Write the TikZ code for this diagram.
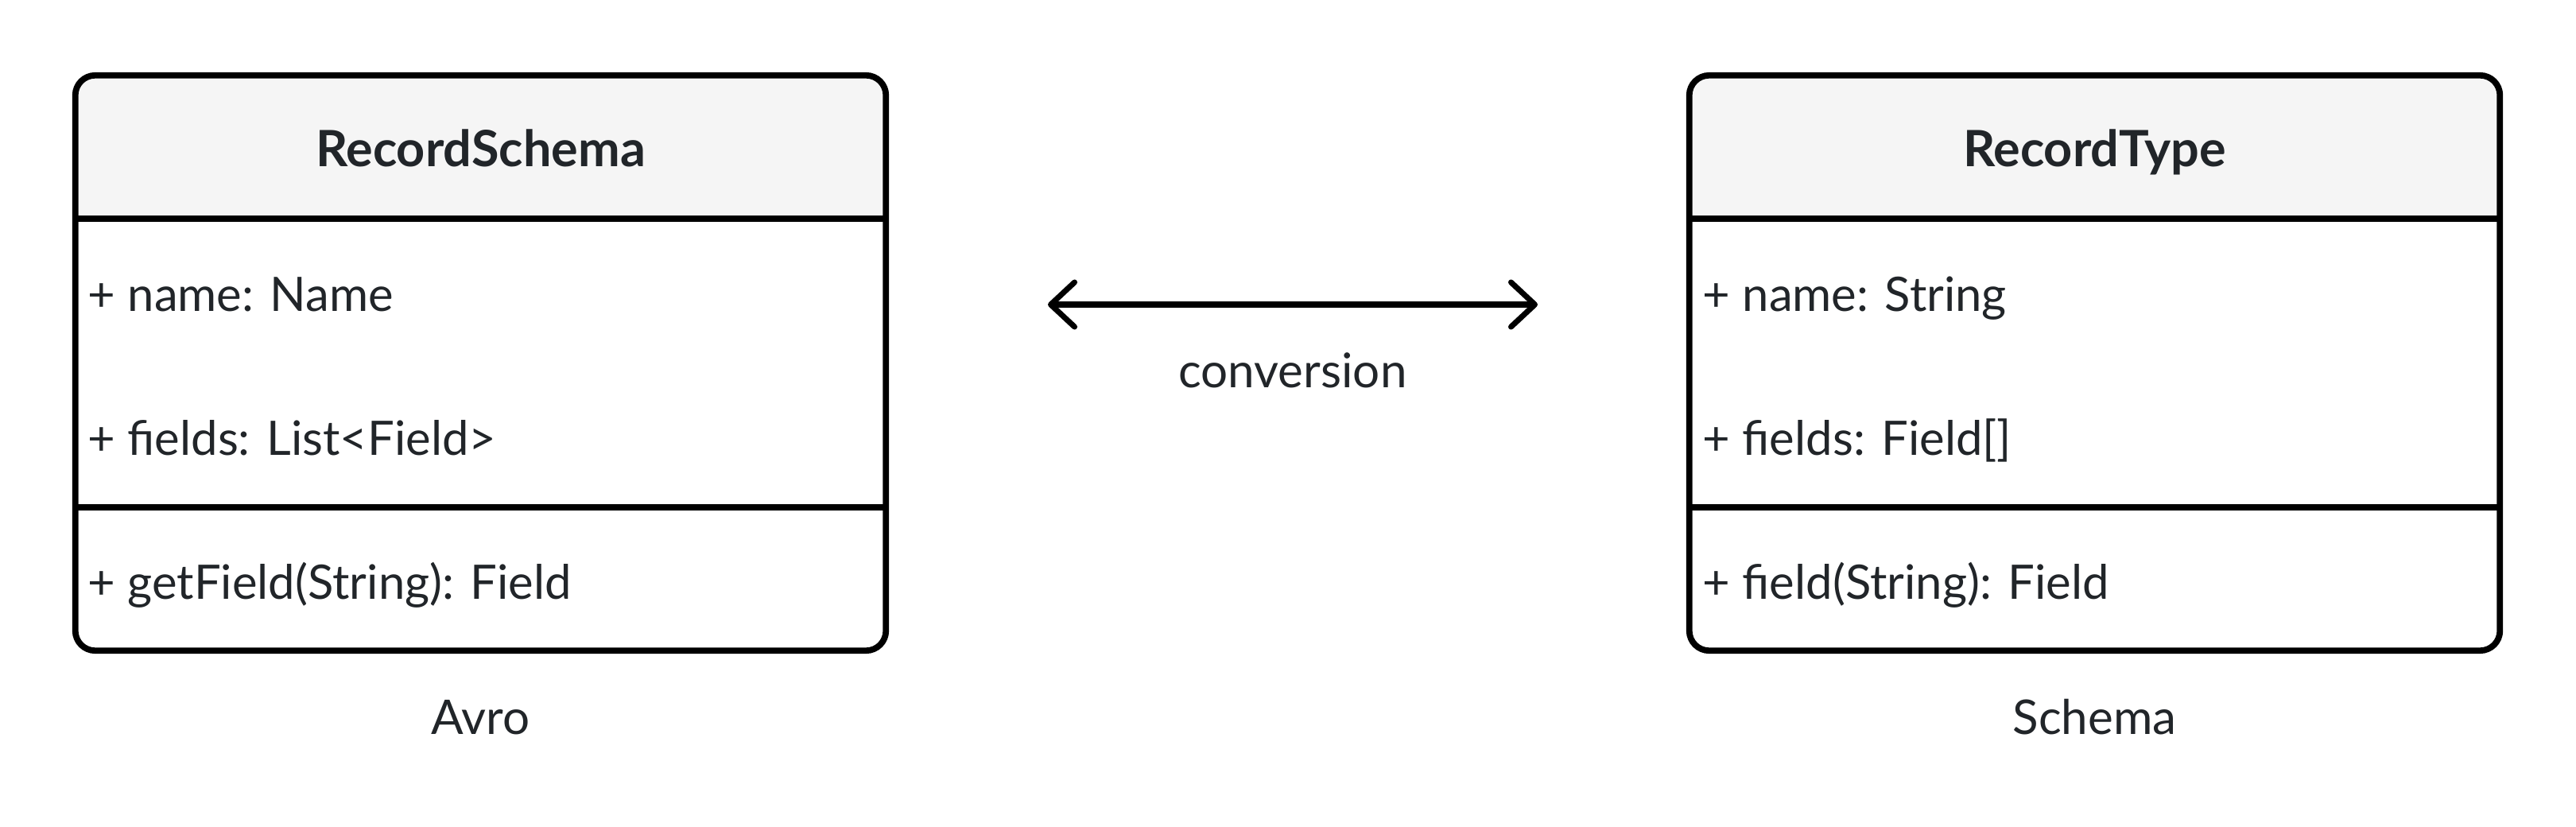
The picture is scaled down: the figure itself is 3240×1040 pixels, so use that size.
\documentclass[tikz,border=0pt]{standalone}
\usepackage{fontspec}
\setmainfont{Lato}
\usetikzlibrary{positioning,arrows.meta}
\definecolor{inkgray}{HTML}{212529}
\definecolor{headgray}{HTML}{F5F5F5}

\begin{document}
\begin{tikzpicture}[x=0.01cm, y=-0.01cm,
    classbox/.style ={rectangle, draw=black, line width=2.2pt, rounded corners=0.25cm, inner sep=0pt, minimum width=10.19cm, minimum height=7.23cm},
    divider/.style ={draw=black, line width=2.2pt},
    title/.style ={anchor=base, inner sep=0pt, text=inkgray, font=\bfseries\fontsize{17.9}{21}\selectfont},
    member/.style ={anchor=base west, inner sep=0pt, text=inkgray, font=\fontsize{17}{21}\selectfont},
    caption/.style ={anchor=base, inner sep=0pt, text=inkgray, font=\fontsize{17.1}{21}\selectfont},
    convarrow/.style ={line width=2pt, {Straight Barb[length=0.3cm, width=0.56cm, round]}-{Straight Barb[length=0.3cm, width=0.56cm, round]}}]
   \useasboundingbox (0,0) rectangle (3240,1040);

   % header fills
   \begin{scope}
     \clip (95,95) rectangle (1114,275);
     \fill[headgray, rounded corners=0.25cm] (95,95) rectangle (1114,818);
   \end{scope}
   \begin{scope}
     \clip (2126,95) rectangle (3143,275);
     \fill[headgray, rounded corners=0.25cm] (2126,95) rectangle (3143,818);
   \end{scope}

   % class boxes
   \node[classbox] (schema) at (604.5,456.5) {};
   \node[classbox] (type) at (2634.5,456.5) {};

   \draw[divider] (95,275) -- (1114,275);
   \draw[divider] (95,638) -- (1114,638);
   \draw[divider] (2126,275) -- (3143,275);
   \draw[divider] (2126,638) -- (3143,638);

   % RecordSchema
   \node[title] (schematitle) at (604.5,210) {RecordSchema};
   \node[member] (schemaname) at (110,392) {+ name: Name};
   \node[member] (schemafields) at (110,572) {+ fields: List<Field>};
   \node[member] (schemaget) at (110,753) {+ getField(String): Field};
   \node[caption] (avro) at (604.5,923) {Avro};

   % RecordType
   \node[title] (typetitle) at (2634.5,210) {RecordType};
   \node[member] (typename) at (2141,392) {+ name: String};
   \node[member] (typefields) at (2141,572) {+ fields: Field[]};
   \node[member] (typefield) at (2141,753) {+ field(String): Field};
   \node[caption] (schemalabel) at (2634.5,923) {Schema};

   % conversion
   \coordinate (convleft) at (1318,383);
   \coordinate (convright) at (1934,383);
   \draw[convarrow] (convleft) -- (convright);
   \node[caption] (conv) at (1626,487) {conversion};
 \end{tikzpicture}
\end{document}
